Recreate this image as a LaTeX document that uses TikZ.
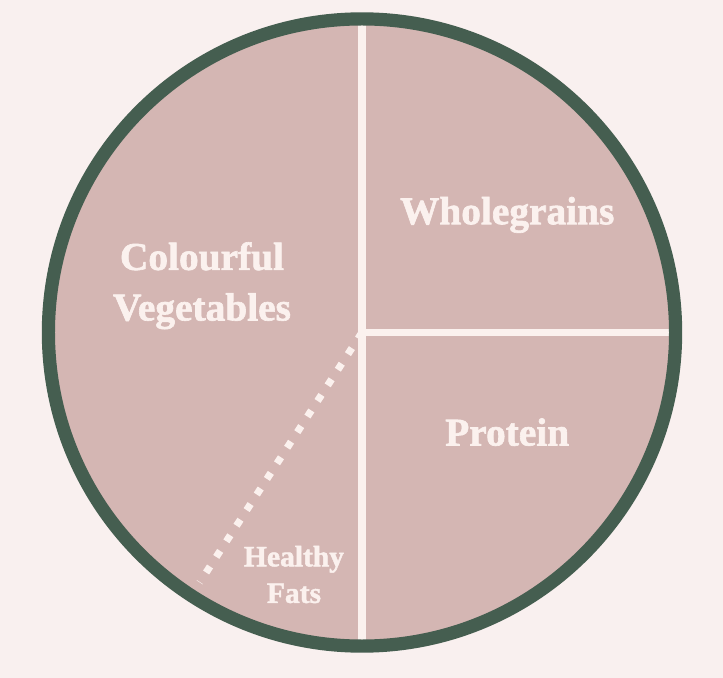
\documentclass[tikz,border=0pt]{standalone}
\usepackage{fontspec}
\setmainfont{Liberation Serif}[BoldFeatures={FakeBold=1.6}]
\definecolor{plateback}{RGB}{249,240,239}
\definecolor{platefill}{RGB}{212,182,179}
\definecolor{platerim}{RGB}{69,94,80}
\definecolor{plateline}{RGB}{251,241,238}
\tikzset{
    label/.style={text=plateline, font=\bfseries\fontsize{28}{36}\selectfont, align=center},
    smalllabel/.style={label, font=\bfseries\fontsize{21}{26}\selectfont},
    divider/.style={draw=plateline, line width=0.19cm},
}
\begin{document}
\begin{tikzpicture}
    \fill[plateback] (-9.05,-8.6375) rectangle (9.025,8.3125);
    \useasboundingbox (-9.05,-8.6375) rectangle (9.025,8.3125);
    \coordinate (c) at (0,0);
    \fill[platefill] (c) circle (7.84);
    % Dividers
    \coordinate (top) at (90:7.7);
    \coordinate (bottom) at (270:7.7);
    \coordinate (right) at (0:7.7);
    \coordinate (fats) at (237:7.45);
    \draw[divider] (top) -- (bottom);
    \draw[divider] (c) -- (right);
    \draw[draw=plateline, line width=0.18cm, dash pattern=on 0.18cm off 0.285cm] (c) -- (fats);
    % Rim
    \draw[platerim, line width=0.33cm] (c) circle (7.84);
    % Labels
    \node[label] (veg) at (-4.0,1.17) {Colourful\\Vegetables};
    \node[label] (grains) at (3.63,2.94) {Wholegrains};
    \node[label] (protein) at (3.63,-2.49) {Protein};
    \node[smalllabel] (fat) at (-1.7,-6.05) {Healthy\\Fats};
\end{tikzpicture}
\end{document}
